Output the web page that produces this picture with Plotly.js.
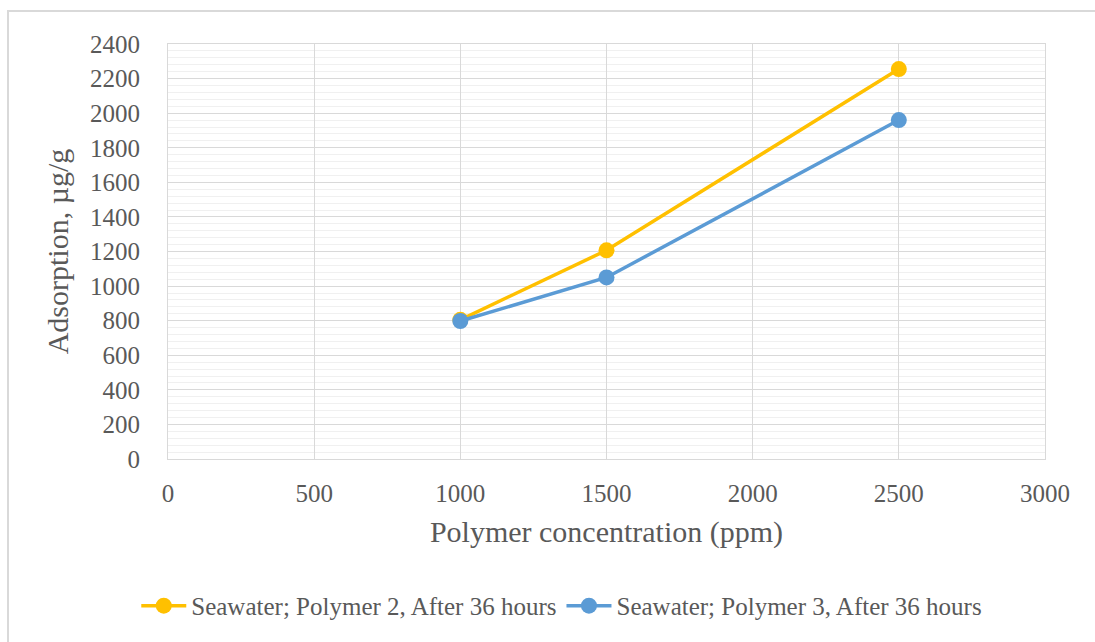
<!DOCTYPE html>
<html>
<head>
<meta charset="utf-8">
<script src="https://cdn.plot.ly/plotly-3.0.1.min.js"></script>
<style>
  html, body { margin: 0; padding: 0; background: #fff; }
  #wrap { position: relative; width: 1095px; height: 642px; overflow: hidden; }
  #chart { width: 1095px; height: 642px; }
  #frame { position: absolute; left: 7px; top: 10px; width: 1200px; height: 700px; border: 2px solid #d9d9d9; pointer-events: none; }
</style>
</head>
<body>
<div id="wrap">
  <div id="chart"></div>
  <div id="frame"></div>
</div>
<script>
const concentration = [1000, 1500, 2500];
const polymer2 = [805, 1207, 2255];
const polymer3 = [798, 1050, 1960];
const seriesNames = ["Seawater; Polymer 2, After 36 hours", "Seawater; Polymer 3, After 36 hours"];

const fontFam = "'Liberation Serif', serif";
const traces = [
  { x: concentration, y: polymer2, name: seriesNames[0], type: "scatter", mode: "lines+markers",
    line: { color: "#FFC000", width: 3.5 }, marker: { color: "#FFC000", size: 16 } },
  { x: concentration, y: polymer3, name: seriesNames[1], type: "scatter", mode: "lines+markers",
    line: { color: "#5B9BD5", width: 3.5 }, marker: { color: "#5B9BD5", size: 16 } }
];

const layout = {
  width: 1095, height: 642,
  margin: { l: 168, r: 50, t: 44, b: 183 },
  paper_bgcolor: "#fff", plot_bgcolor: "#fff",
  font: { family: fontFam, color: "#595959", size: 24 },
  showlegend: true,
  legend: { orientation: "h", x: 0.449, xanchor: "center", y: -0.354, yanchor: "middle",
    font: { family: fontFam, size: 25, color: "#595959" }, itemwidth: 45, traceorder: "normal" },
  xaxis: {
    range: [0, 3000], dtick: 500, tick0: 0, showgrid: true, gridcolor: "#d9d9d9", gridwidth: 1,
    zeroline: false, showline: true, linecolor: "#d9d9d9", linewidth: 1, mirror: true,
    ticks: "", ticklabelstandoff: 12,
    tickfont: { family: fontFam, size: 25, color: "#595959" },
    title: { text: "Polymer concentration (ppm)", font: { family: fontFam, size: 30, color: "#595959" }, standoff: 14 }
  },
  yaxis: {
    range: [0, 2400], dtick: 200, tick0: 0, showgrid: true, gridcolor: "#d9d9d9", gridwidth: 1,
    minor: { dtick: 40, showgrid: true, gridcolor: "#f0f0f0", gridwidth: 1 },
    zeroline: false, showline: true, linecolor: "#d9d9d9", linewidth: 1, mirror: true,
    ticks: "", ticklabelstandoff: 22,
    tickfont: { family: fontFam, size: 25, color: "#595959" },
    title: { text: "Adsorption, µg/g", font: { family: fontFam, size: 30, color: "#595959" }, standoff: 12 }
  }
};

Plotly.newPlot("chart", traces, layout, { displayModeBar: false, staticPlot: true });
</script>
</body>
</html>
